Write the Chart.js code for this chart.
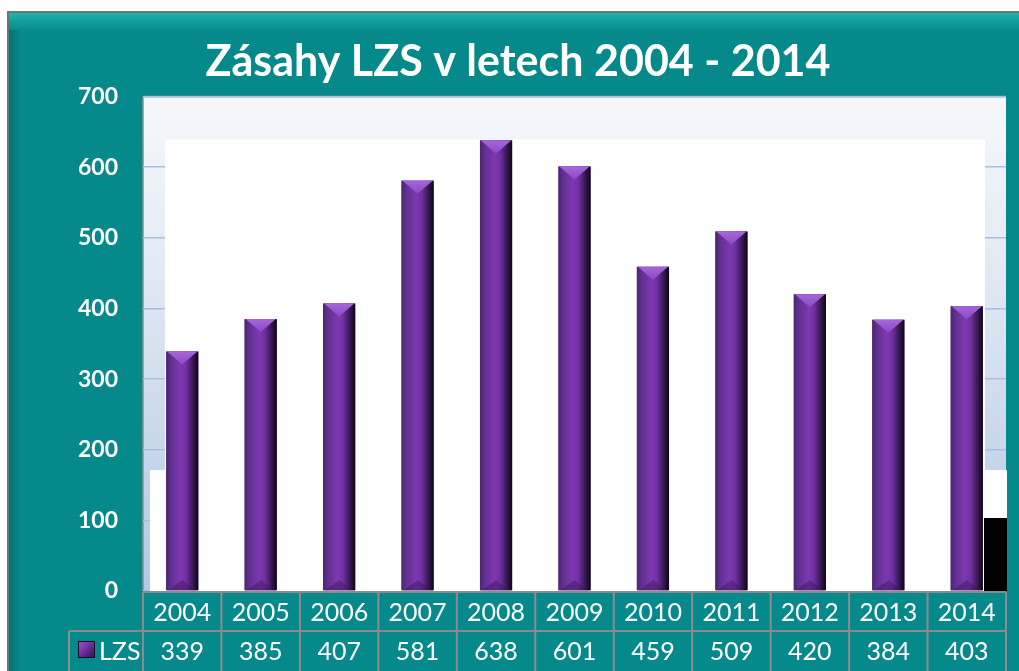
<!DOCTYPE html>
<html>
<head>
<meta charset="utf-8">
<script src="https://cdn.jsdelivr.net/npm/chart.js@4.4.0/dist/chart.umd.min.js"></script>
<style>
  html, body { margin: 0; padding: 0; background: #fff; }
</style>
</head>
<body>
<canvas id="myChart" width="1019" height="671"></canvas>
<script>
var years = ['2004', '2005', '2006', '2007', '2008', '2009', '2010', '2011', '2012', '2013', '2014'];
var lzs = [339, 385, 407, 581, 638, 601, 459, 509, 420, 384, 403];
var seriesName = 'LZS';
var chartTitle = 'Zásahy LZS v letech 2004 - 2014';
var yMin = 0;
var yMax = 700;
var yStep = 100;

var teal = '#06898a';

// teal frame + plot background
var framePlugin = {
  id: 'frame',
  beforeDraw: function (chart) {
    var ctx = chart.ctx, a = chart.chartArea;
    var w = chart.width, h = chart.height;
    ctx.save();
    ctx.fillStyle = '#fff';
    ctx.fillRect(0, 0, w, h);
    ctx.fillStyle = teal;
    ctx.fillRect(8, 12, w - 8, h - 12);
    var g = ctx.createLinearGradient(0, 12, 0, 32);
    g.addColorStop(0, '#26b6b1');
    g.addColorStop(0.5, '#129c9a');
    g.addColorStop(1, teal);
    ctx.fillStyle = g;
    ctx.fillRect(8, 12, w - 8, 20);
    var gl = ctx.createLinearGradient(8, 0, 20, 0);
    gl.addColorStop(0, '#05706f');
    gl.addColorStop(1, teal);
    ctx.fillStyle = gl;
    ctx.fillRect(8, 30, 12, h - 30);
    ctx.strokeStyle = '#5f7a78';
    ctx.lineWidth = 2;
    ctx.beginPath();
    ctx.moveTo(8, h);
    ctx.lineTo(8, 12);
    ctx.lineTo(w, 12);
    ctx.stroke();

    var pg = ctx.createLinearGradient(0, a.top, 0, a.bottom);
    pg.addColorStop(0, '#f6f8fb');
    pg.addColorStop(0.3, '#e6ecf5');
    pg.addColorStop(1, '#b3c8e2');
    ctx.fillStyle = pg;
    ctx.fillRect(a.left, a.top, a.right - a.left, a.bottom - a.top);
    ctx.strokeStyle = '#9fb4dc';
    ctx.lineWidth = 1.5;
    ctx.beginPath();
    ctx.moveTo(a.left, a.top);
    ctx.lineTo(a.right, a.top);
    ctx.stroke();
    ctx.strokeStyle = '#8c8c8c';
    ctx.beginPath();
    ctx.moveTo(a.left, a.top);
    ctx.lineTo(a.left, a.bottom);
    ctx.stroke();
    ctx.restore();
  },
  beforeDatasetsDraw: function (chart) {
    var ctx = chart.ctx, a = chart.chartArea;
    ctx.save();
    ctx.fillStyle = '#fff';
    ctx.fillRect(a.left + 22, a.top + 43, a.right - a.left - 43, a.bottom - a.top - 43);
    ctx.fillRect(a.left + 7, a.bottom - 121, a.right - a.left - 6, 121);
    ctx.fillStyle = '#000';
    ctx.fillRect(a.right - 22, a.bottom - 73, 23, 73);
    ctx.restore();
  }
};

// bevelled purple bars
var barPlugin = {
  id: 'barShade',
  afterDatasetsDraw: function (chart) {
    var ctx = chart.ctx;
    var meta = chart.getDatasetMeta(0);
    ctx.save();
    meta.data.forEach(function (el) {
      var l = el.x - el.width / 2, r = el.x + el.width / 2;
      var top = el.y, base = el.base;
      var g = ctx.createLinearGradient(l, 0, r, 0);
      g.addColorStop(0, '#4a2672');
      g.addColorStop(0.15, '#60308f');
      g.addColorStop(0.45, '#7e38b2');
      g.addColorStop(0.62, '#7230a4');
      g.addColorStop(0.82, '#3a1a58');
      g.addColorStop(1, '#0e0616');
      ctx.fillStyle = g;
      ctx.fillRect(l, top, r - l, base - top);
      // top cap
      var cg = ctx.createLinearGradient(0, top, 0, top + 14);
      cg.addColorStop(0, '#a567dc');
      cg.addColorStop(1, '#8a45c2');
      ctx.fillStyle = cg;
      ctx.beginPath();
      ctx.moveTo(l + 1, top);
      ctx.lineTo(r - 1, top);
      ctx.lineTo(el.x, top + 13);
      ctx.closePath();
      ctx.fill();
      // bottom chevron
      ctx.fillStyle = 'rgba(60,25,90,0.5)';
      ctx.beginPath();
      ctx.moveTo(l + 2, base);
      ctx.lineTo(el.x, base - 10);
      ctx.lineTo(r - 2, base);
      ctx.closePath();
      ctx.fill();
    });
    ctx.restore();
  }
};

// data table under the plot
var tablePlugin = {
  id: 'dataTable',
  afterDraw: function (chart) {
    var ctx = chart.ctx, a = chart.chartArea, x = chart.scales.x;
    var half = (x.getPixelForValue(1) - x.getPixelForValue(0)) / 2;
    var r1 = a.bottom + 1, r2 = a.bottom + 40, r3 = chart.height + 2;
    var headLeft = 69;
    ctx.save();
    ctx.strokeStyle = '#8c8c8c';
    ctx.lineWidth = 2;
    ctx.beginPath();
    ctx.moveTo(a.left, r1);
    ctx.lineTo(a.right, r1);
    ctx.moveTo(headLeft, r2);
    ctx.lineTo(a.right, r2);
    ctx.moveTo(headLeft, r2);
    ctx.lineTo(headLeft, r3);
    ctx.moveTo(a.left, r1);
    ctx.lineTo(a.left, r3);
    years.forEach(function (y, i) {
      var px = x.getPixelForValue(i) + half;
      ctx.moveTo(px, r1);
      ctx.lineTo(px, r3);
    });
    ctx.stroke();

    ctx.fillStyle = '#fff';
    ctx.font = '25px Lato';
    ctx.textAlign = 'center';
    ctx.textBaseline = 'middle';
    years.forEach(function (y, i) {
      var px = x.getPixelForValue(i);
      ctx.fillText(y, px, (r1 + r2) / 2 + 1);
      ctx.fillText(String(lzs[i]), px, r2 + 21);
    });

    // legend key
    var kx = 78, ky = r2 + 10, ks = 17;
    var kg = ctx.createLinearGradient(kx, ky, kx + ks, ky + ks);
    kg.addColorStop(0, '#9a5ad4');
    kg.addColorStop(0.5, '#6a2e9c');
    kg.addColorStop(1, '#2a1240');
    ctx.fillStyle = kg;
    ctx.fillRect(kx, ky, ks, ks);
    ctx.strokeStyle = '#1a0a26';
    ctx.lineWidth = 1;
    ctx.strokeRect(kx + 0.5, ky + 0.5, ks - 1, ks - 1);
    ctx.fillStyle = '#fff';
    ctx.textAlign = 'left';
    ctx.fillText(seriesName, kx + ks + 4, r2 + 21);
    ctx.restore();
  }
};

var ctx = document.getElementById('myChart').getContext('2d');

var myChart = new Chart(ctx, {
  type: 'bar',
  data: {
    labels: years,
    datasets: [{
      label: seriesName,
      data: lzs,
      backgroundColor: '#6a2f9c',
      borderWidth: 0,
      categoryPercentage: 1,
      barPercentage: 0.41
    }]
  },
  options: {
    responsive: false,
    animation: false,
    devicePixelRatio: 1,
    layout: { padding: { left: 30, right: 13, top: 12, bottom: 80 } },
    plugins: {
      legend: { display: false },
      tooltip: { enabled: false },
      title: {
        display: true,
        text: chartTitle,
        color: '#fff',
        font: { family: 'Lato', size: 43, weight: 'bold' },
        padding: { top: 24, bottom: 9 }
      }
    },
    scales: {
      x: { display: false },
      y: {
        min: yMin,
        max: yMax,
        ticks: {
          stepSize: yStep,
          color: '#fff',
          font: { family: 'Lato', size: 23, weight: 'bold' },
          padding: 25
        },
        grid: { color: '#a9bfe2', lineWidth: 1.5, drawTicks: false },
        border: { display: false },
        afterFit: function (s) { s.width = 113; }
      }
    }
  },
  plugins: [framePlugin, barPlugin, tablePlugin]
});
</script>
</body>
</html>
